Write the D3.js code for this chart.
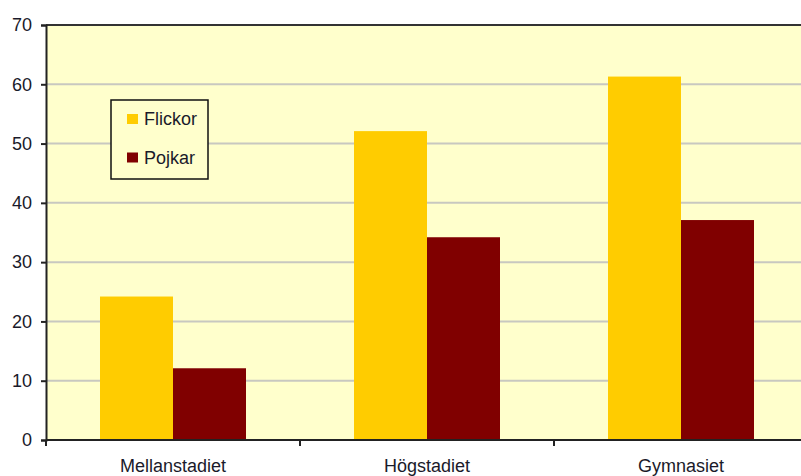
<html>
<head>
  <meta charset="utf-8">
  <script src="https://d3js.org/d3.v7.min.js"></script>
  <style>
    body { margin: 0; background: white; }
    text { font-family: Arial, "Liberation Sans", sans-serif; fill: #1a1a2a; }
  </style>
</head>
<body>
  <div id="chart"></div>
  <script>
    var categories = ["Mellanstadiet", "Högstadiet", "Gymnasiet"];
    var seriesNames = ["Flickor", "Pojkar"];
    var flickor = [24.2, 52.1, 61.3];
    var pojkar = [12.1, 34.2, 37.1];
    var yTicks = [0, 10, 20, 30, 40, 50, 60, 70];
    var colors = ["#ffcc00", "#800000"];

    var width = 801, height = 476;
    var plotLeft = 46, plotTop = 25, plotBottom = 440, plotRight = 808;

    var svg = d3.select("#chart").append("svg")
      .attr("width", width).attr("height", height);

    var x0 = d3.scaleBand().domain(categories).range([plotLeft, plotRight]);
    var bw = x0.bandwidth();
    var xs = d3.scaleBand().domain(seriesNames).range([bw * 0.2126, bw * 0.7874]);
    var y = d3.scaleLinear().domain([0, 70]).range([plotBottom, plotTop]);

    // plot background
    svg.append("rect")
      .attr("x", plotLeft).attr("y", plotTop)
      .attr("width", plotRight - plotLeft).attr("height", plotBottom - plotTop)
      .attr("fill", "#ffffcc");

    // gridlines
    svg.append("g").selectAll("line")
      .data(yTicks.filter(function (d) { return d > 0 && d < 70; }))
      .enter().append("line")
      .attr("x1", plotLeft).attr("x2", plotRight)
      .attr("y1", function (d) { return y(d); })
      .attr("y2", function (d) { return y(d); })
      .attr("stroke", "#c8c8c0").attr("stroke-width", 2);

    var rows = categories.map(function (c, i) {
      return { cat: c, values: [flickor[i], pojkar[i]] };
    });

    var groups = svg.append("g").selectAll("g")
      .data(rows).enter().append("g")
      .attr("transform", function (d) { return "translate(" + x0(d.cat) + ",0)"; });

    groups.selectAll("rect")
      .data(function (d) { return d.values.map(function (v, j) { return { s: seriesNames[j], v: v, j: j }; }); })
      .enter().append("rect")
      .attr("x", function (d) { return xs(d.s); })
      .attr("width", xs.bandwidth())
      .attr("y", function (d) { return y(d.v); })
      .attr("height", function (d) { return plotBottom - y(d.v); })
      .attr("fill", function (d) { return colors[d.j]; });

    // top border
    svg.append("line")
      .attr("x1", plotLeft).attr("x2", plotRight).attr("y1", plotTop).attr("y2", plotTop)
      .attr("stroke", "#333").attr("stroke-width", 2);

    // y axis
    var yAxis = svg.append("g")
      .attr("transform", "translate(" + plotLeft + ",0)")
      .call(d3.axisLeft(y).tickValues(yTicks).tickSize(5).tickPadding(9));
    yAxis.select(".domain").attr("stroke", "#222").attr("stroke-width", 2);
    yAxis.selectAll(".tick line").attr("stroke", "#222").attr("stroke-width", 2);
    yAxis.selectAll("text").style("font-size", "18px").attr("fill", "#1a1a2a");

    // x axis
    var xAxis = svg.append("g")
      .attr("transform", "translate(0," + plotBottom + ")");
    xAxis.append("line")
      .attr("x1", plotLeft).attr("x2", plotRight).attr("y1", 0).attr("y2", 0)
      .attr("stroke", "#222").attr("stroke-width", 2);
    xAxis.selectAll(".xt")
      .data(categories).enter().append("line")
      .attr("x1", function (d) { return x0(d); })
      .attr("x2", function (d) { return x0(d); })
      .attr("y1", 0).attr("y2", 6)
      .attr("stroke", "#222").attr("stroke-width", 2);
    xAxis.selectAll(".xl")
      .data(categories).enter().append("text")
      .attr("x", function (d) { return x0(d) + bw / 2; })
      .attr("y", 32)
      .attr("text-anchor", "middle")
      .style("font-size", "18px")
      .text(function (d) { return d; });

    // legend
    var legend = svg.append("g");
    legend.append("rect")
      .attr("x", 111).attr("y", 100).attr("width", 97).attr("height", 79)
      .attr("fill", "#ffffcc").attr("stroke", "#111").attr("stroke-width", 1.5);
    var items = legend.selectAll(".li").data(seriesNames).enter().append("g")
      .attr("transform", function (d, i) { return "translate(127," + (114 + i * 38.5) + ")"; });
    items.append("rect")
      .attr("width", 11).attr("height", 10)
      .attr("fill", function (d, i) { return colors[i]; });
    items.append("text")
      .attr("x", 17).attr("y", 11)
      .style("font-size", "18px")
      .text(function (d) { return d; });
  </script>
</body>
</html>
